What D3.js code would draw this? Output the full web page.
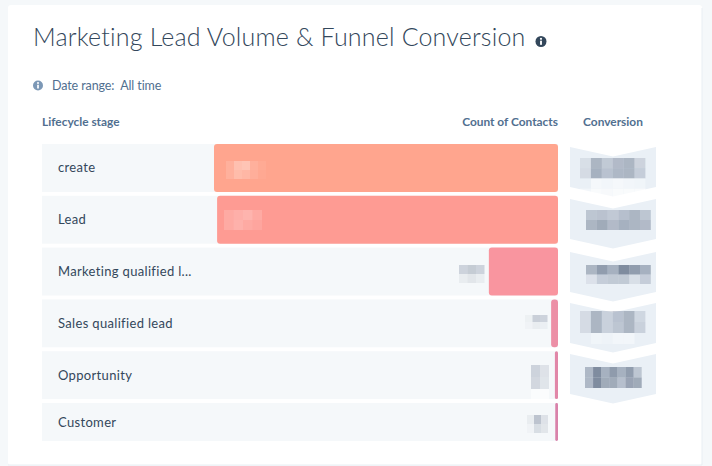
<!DOCTYPE html>
<html><head><meta charset="utf-8">
<script src="https://cdn.jsdelivr.net/npm/d3@7/dist/d3.min.js"></script>
<style>html,body{margin:0;padding:0;background:#f5f8fa}svg{display:block}text{font-family:Lato,"Open Sans",sans-serif}</style>
</head><body><div id="chart"></div>
<script>
const titleText = "Marketing Lead Volume & Funnel Conversion";
const dateText = "Date range:  All time";
const headers = ["Lifecycle stage", "Count of Contacts", "Conversion"];
const stages = ["create", "Lead", "Marketing qualified l...", "Sales qualified lead", "Opportunity", "Customer"];
const counts = [10000, 9910, 2010, 200, 90, 80];
const barColors = ["#ffa58e", "#fe9b93", "#f9959f", "#ec8fa6", "#e187a8", "#d982aa"];
// Obscured numbers in the reference, read as mosaics of ink (+) and highlight (-)
const countMosaics = [
  [[-.12,-.3,-.35,-.12,-.05],[-.12,-.25,-.2,-.1,-.03]],
  [[-.15,-.2,-.25,-.15],[-.15,-.22,-.15,-.1]],
  [[.25,.3,.25],[.08,.12,.08]],
  [[.05,.28,.25],[.03,.08,.06]],
  [[.25,.15],[.22,.13],[-.5,-.6]],
  [[.08,.35,.15],[.03,.18,.12]]
];
const convMosaics = [
  [[.12,.42,.27,.38,.42,.2],[.15,.45,.32,.4,.42,.25],[0,-.5,-.4,-.5,-.4,-.3],[-.4,-.7,-.6,-.7,-.7,-.7]],
  [[.3,.33,.28,.35,.42,.3],[.42,.5,.38,.45,.42,.38]],
  [[.42,.6,.45,.72,.6,.45],[.1,.25,.27,.27,.12,.25]],
  [[.15,.42,.22,.32,.42,.18],[.15,.42,.22,.3,.42,.22],[0,-.3,-.2,-.4,-.4,0]],
  [[.4,.72,.45,.62,.45,.6,.3],[.4,.72,.5,.5,.35,.55,.5]]
];

const W = 712, H = 466;
const svg = d3.select("#chart").append("svg").attr("width", W).attr("height", H);
const defs = svg.append("defs");
defs.append("filter").attr("id","soft").attr("x","-10%").attr("y","-10%").attr("width","120%").attr("height","120%")
  .append("feGaussianBlur").attr("stdDeviation",0.6);

// card
svg.append("rect").attr("x",8).attr("y",5).attr("width",694).attr("height",460).attr("rx",3).attr("fill","#fff");
svg.append("path").attr("d","M8 465H702V8").attr("fill","none").attr("stroke","#e9eef3").attr("stroke-width",1);

// title
svg.append("text").attr("x",33).attr("y",46).attr("fill","#33475b").attr("font-size",25).attr("font-weight",300)
  .attr("letter-spacing",0.19).text(titleText);
function info(cx, cy, r, col){
  const g = svg.append("g");
  g.append("circle").attr("cx",cx).attr("cy",cy).attr("r",r).attr("fill",col);
  g.append("rect").attr("x",cx-r*0.17).attr("y",cy-r*0.15).attr("width",r*0.34).attr("height",r*0.75).attr("fill","#fff");
  g.append("circle").attr("cx",cx).attr("cy",cy-r*0.48).attr("r",r*0.2).attr("fill","#fff");
}
info(541, 41.5, 5.5, "#33475b");
info(38, 85.5, 5, "#7c98b6");
svg.append("text").attr("x",52).attr("y",90).attr("fill","#516f90").attr("font-size",12.5).style("white-space","pre").attr("letter-spacing",-0.1).text(dateText);

// headers
const hdr = svg.append("g").attr("fill","#516f90").attr("font-size",11.9).attr("font-weight",700);
hdr.append("text").attr("x",42).attr("y",126).text(headers[0]);
hdr.append("text").attr("x",558).attr("y",126).attr("text-anchor","end").text(headers[1]);
hdr.append("text").attr("x",613).attr("y",126).attr("text-anchor","middle").text(headers[2]);

// scales
const y = d3.scaleBand().domain(stages).range([144, 144 + 5.925 * 51.8]).paddingInner(0.075).paddingOuter(0);
const x = d3.scaleLinear().domain([0, d3.max(counts)]).range([558, 214]);
const rowH = (s, i) => i === stages.length - 1 ? 38 : y.bandwidth();

// rows
svg.append("g").selectAll("rect").data(stages).join("rect")
  .attr("x",42).attr("y",d=>y(d)).attr("width",516).attr("height",rowH).attr("fill","#f5f8fa");
svg.append("g").attr("fill","#33475b").attr("font-size",13).attr("letter-spacing",0.33)
  .selectAll("text").data(stages).join("text")
  .attr("x",58).attr("y",(d,i)=>y(d)+rowH(d,i)/2+4.5).text(d=>d);

// bars
svg.append("g").selectAll("rect").data(counts).join("rect")
  .attr("x",d=>x(d)).attr("y",(d,i)=>y(stages[i])).attr("width",d=>558-x(d))
  .attr("height",(d,i)=>rowH(stages[i],i))
  .attr("rx",d=>Math.min(3,(558-x(d))/2)).attr("fill",(d,i)=>barColors[i]);

// mosaic helper
function mosaic(parent, grid, x0, y0, cw, ch){
  const g = parent.append("g").attr("filter","url(#soft)");
  grid.forEach((row,r)=>row.forEach((v,c)=>{
    g.append("rect").attr("x",x0+c*cw).attr("y",y0+r*ch).attr("width",cw).attr("height",ch)
      .attr("fill",v>=0?"#55657e":"#fff").attr("fill-opacity",Math.abs(v));
  }));
}
const countAnchors = [[226,161],[224,210],[459,265],[525,315],[531,365],[527,415]];
const cells = [[8,9],[9.5,10],[8.5,9],[7.5,7],[9,12],[7,9]];
countMosaics.forEach((m,i)=>mosaic(svg,m,countAnchors[i][0],countAnchors[i][1],cells[i][0],cells[i][1]));

// conversion chevrons
const chev = d3.line();
const chevTop = [147,199,252,303,354];
const chevH = 40, dip = 9.5;
svg.append("g").selectAll("path").data(convMosaics).join("path")
  .attr("fill","#eaf0f6")
  .attr("d",(d,i)=>{const t=chevTop[i];return chev([[570,t],[613,t+dip],[656,t],[656,t+chevH],[613,t+chevH+dip],[570,t+chevH]])+"Z";});
const convAnchors = [[580,158],[586,210],[586,265],[580,311],[585,367]];
const convCell = [[10.9,10.2],[10.8,10],[10.8,9.5],[10.9,11],[8.1,10.5]];
convMosaics.forEach((m,i)=>mosaic(svg,m,convAnchors[i][0],convAnchors[i][1],convCell[i][0],convCell[i][1]));
</script></body></html>
